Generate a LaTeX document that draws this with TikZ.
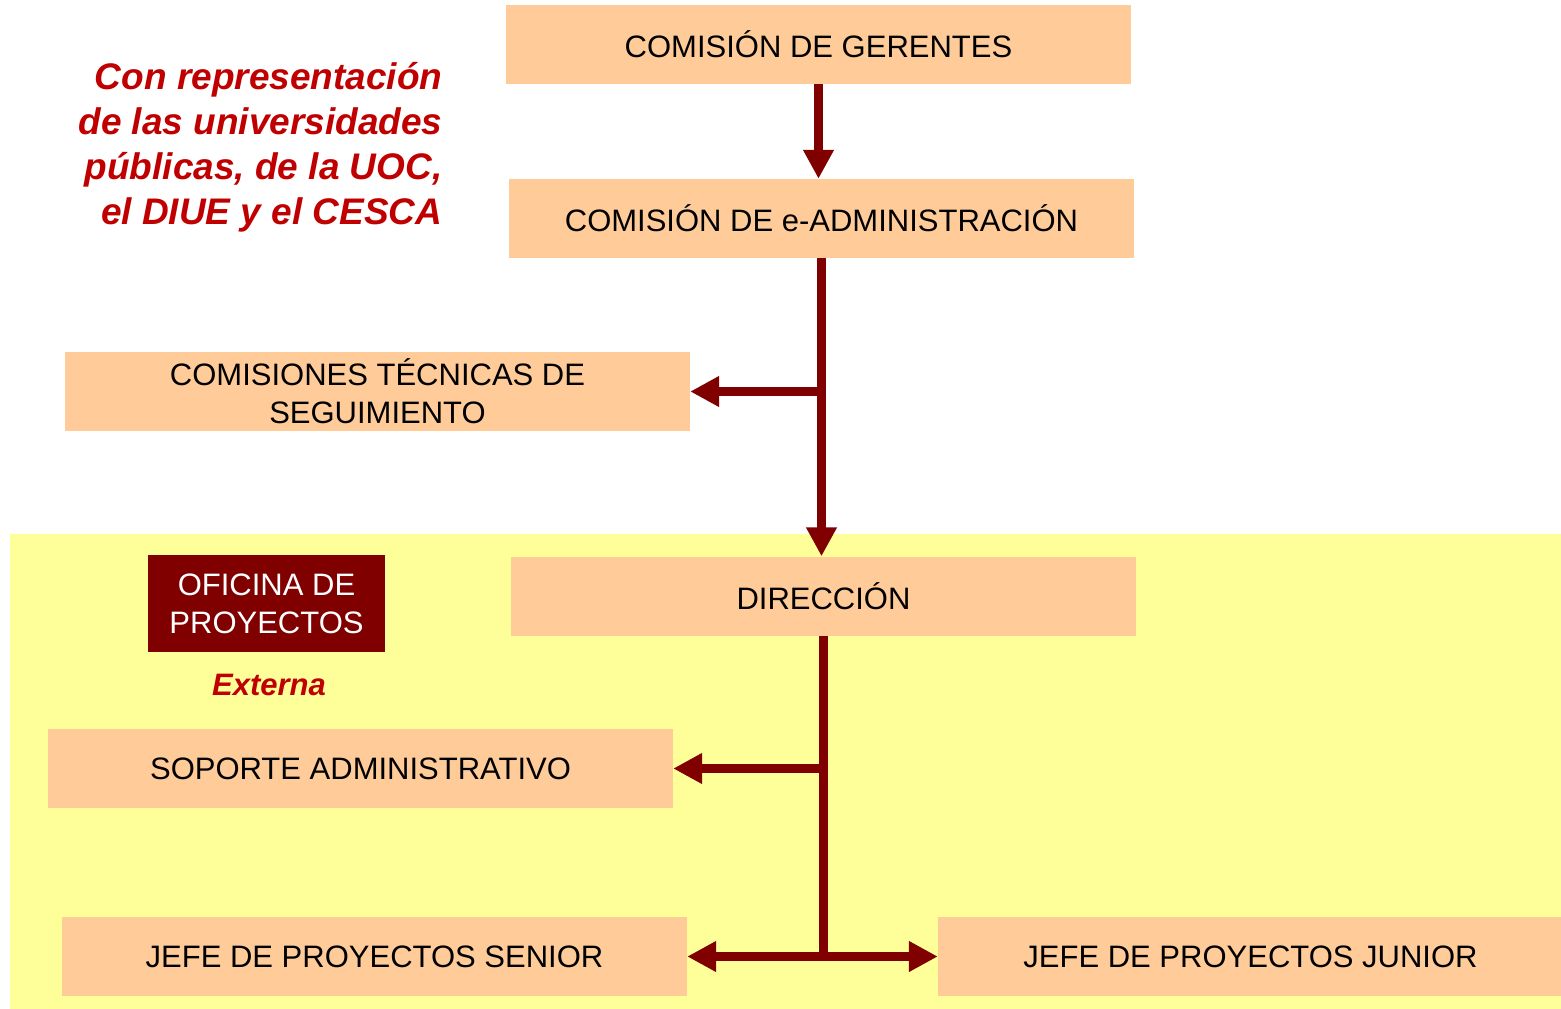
\documentclass[tikz,border=0pt]{standalone}
\usepackage{fontspec}
\setmainfont{Liberation Sans}
\usepackage{tikz}
\usetikzlibrary{arrows.meta, positioning}
\definecolor{peach}{HTML}{FFCC99}
\definecolor{paleyellow}{HTML}{FFFF99}
\definecolor{maroon}{HTML}{800000}
\definecolor{notered}{HTML}{C00000}

\begin{document}
\begin{tikzpicture}[x=1pt, y=-1pt,
    box/.style={fill=peach, minimum width=625pt, minimum height=79pt, inner sep=0pt, align=center, font=\fontsize{31}{38}\selectfont},
    link/.style={line width=9pt, maroon, -{Triangle[length=29pt, width=29pt]}},
    bar/.style={line width=9pt, maroon},
    note/.style={text=notered, font=\fontsize{37}{45}\selectfont\bfseries\itshape}]
    \useasboundingbox[fill=white] (0,0) rectangle (1561,1009);
    \fill[paleyellow] (10,534) rectangle (1561,1009);

    \node (rep) at (446,147) [note, anchor=east, align=right] {Con representación\\de las universidades\\públicas, de la UOC,\\el DIUE y el CESCA};

    \node (ger) at (818.5,44.5) [box] {COMISIÓN DE GERENTES};
    \node (ead) at (821.5,218.5) [box] {COMISIÓN DE e-ADMINISTRACIÓN};
    \node (cts) at (377.5,391.5) [box] {COMISIONES TÉCNICAS DE\\SEGUIMIENTO};
    \node (dir) at (823.5,596) [box] {DIRECCIÓN};
    \node (ofi) at (266.5,603.5) [fill=maroon, text=white, minimum width=237pt, minimum height=97pt, inner sep=0pt, align=center, font=\fontsize{31}{38}\selectfont] {OFICINA DE\\PROYECTOS};
    \node (ext) at (269,685) [text=notered, font=\fontsize{31}{38}\selectfont\bfseries\itshape] {Externa};
    \node (sop) at (360.5,768.5) [box] {SOPORTE ADMINISTRATIVO};
    \node (sen) at (374.5,956.5) [box] {JEFE DE PROYECTOS SENIOR};
    \node (jun) at (1250.5,956.5) [box] {JEFE DE PROYECTOS JUNIOR};

    \coordinate (j1) at (ead.south |- cts.east);
    \coordinate (j2) at (dir.south |- sop.east);
    \coordinate (j3) at (dir.south |- sen.east);

    \draw [link] (ger.south) -- (ger.south |- ead.north);
    \draw [link] (ead.south) -- (ead.south |- dir.north);
    \draw [link] (j1) -- (cts.east);
    \draw [bar] (dir.south) -- (j3);
    \draw [link] (j2) -- (sop.east);
    \draw [link] (j3) -- (sen.east);
    \draw [link] (j3) -- (jun.west);
\end{tikzpicture}
\end{document}
